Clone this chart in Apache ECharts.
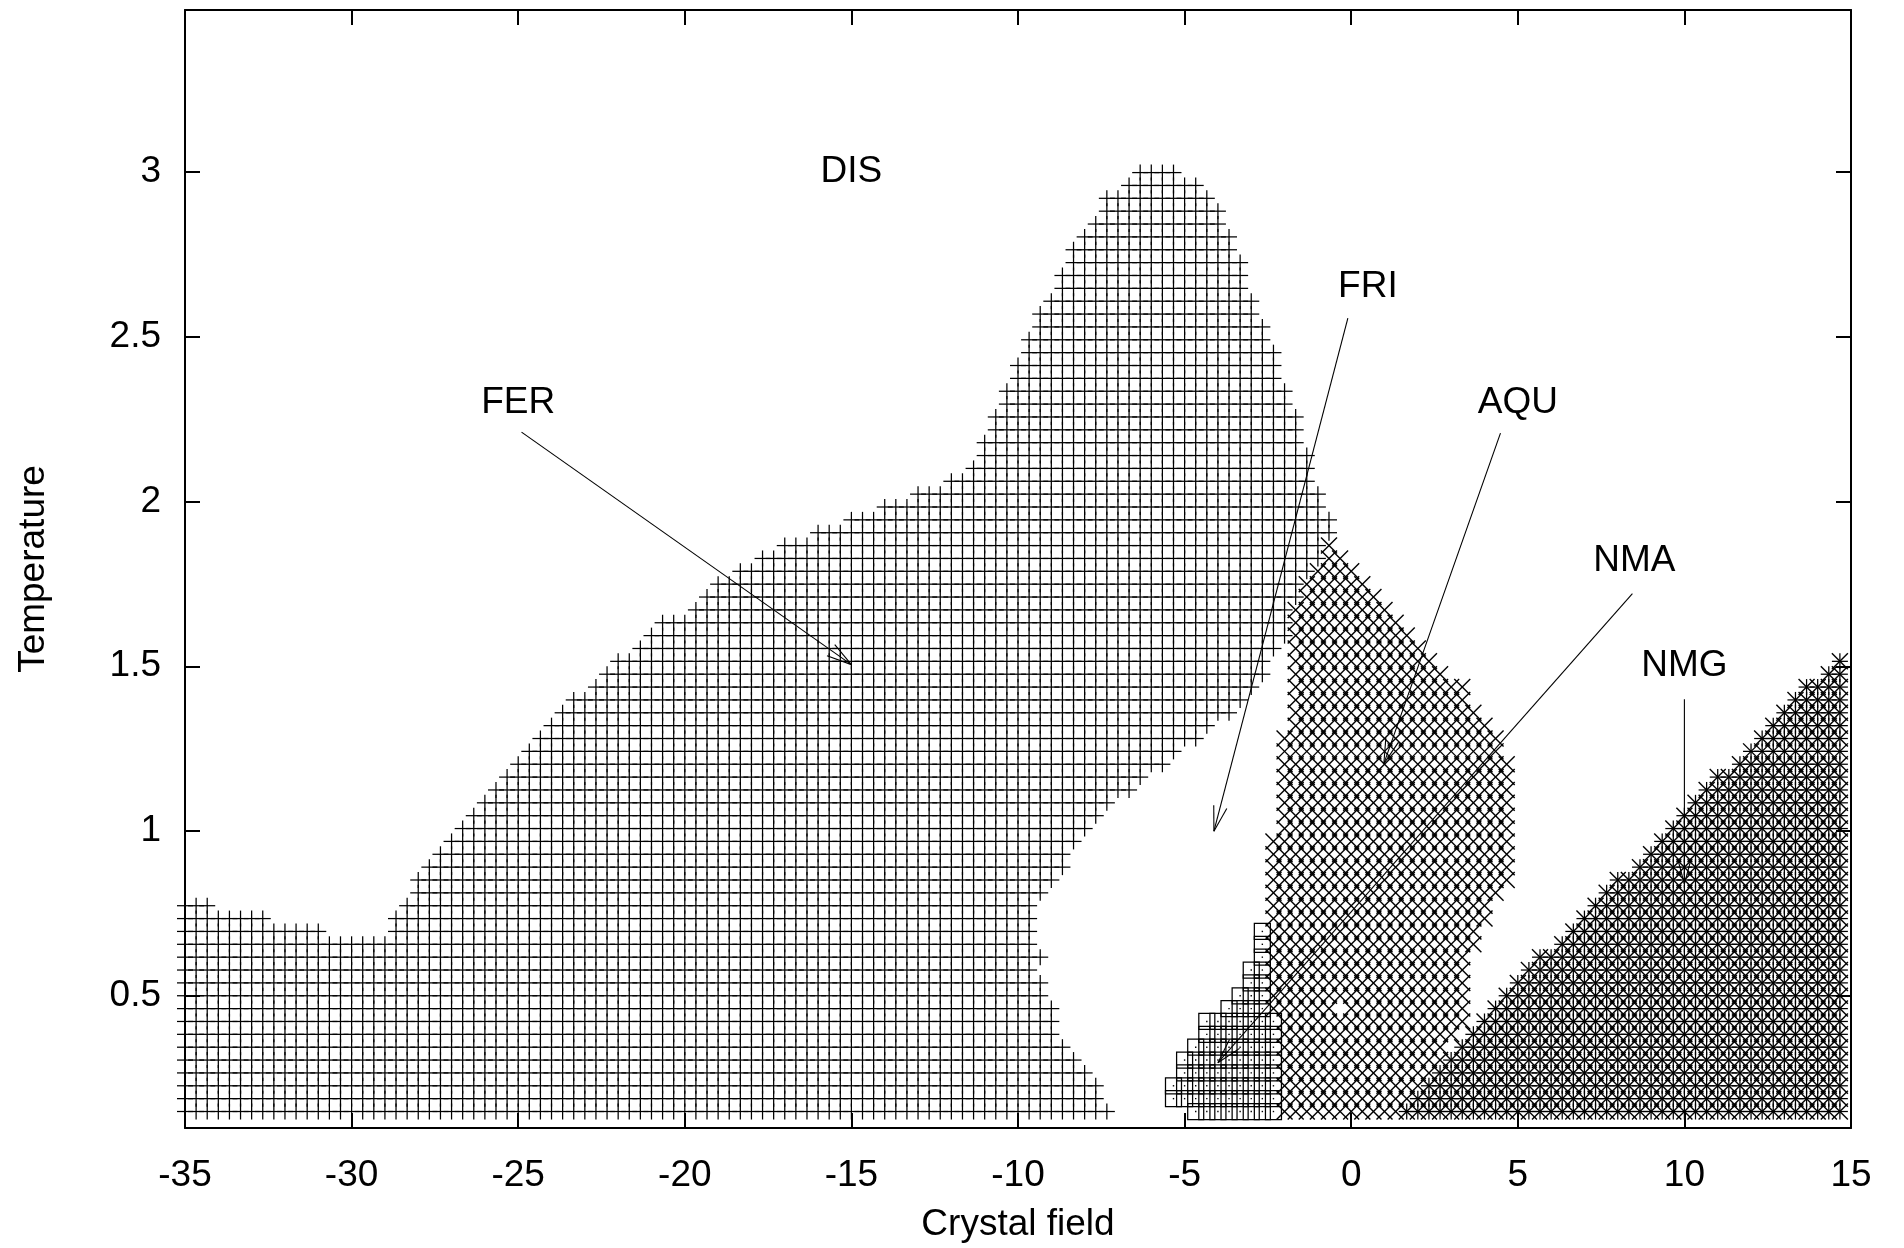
<!DOCTYPE html>
<html><head><meta charset="utf-8">
<script src="https://cdn.jsdelivr.net/npm/echarts@6/dist/echarts.min.js"></script>
<style>html,body{margin:0;padding:0;background:#fff}#c{width:1904px;height:1248px}</style>
</head><body><div id="c"></div>
<script>
// Lattice of the computed phase diagram: x = X_START + i*X_STEP, T = T_START + j*T_STEP
const X_START = -35, X_STEP = 1/3, T_START = 0.15, T_STEP = 0.039;
const xTicks = [-35,-30,-25,-20,-15,-10,-5,0,5,10,15];
const yTicks = [0.5,1,1.5,2,2.5,3];

// FER ('+') : first and last column per row j = 0..73
const ferLeft = [0,0,0,0,0,0,0,0,0,0, 0,0,0,0,0,0,0,21,21,22, 23,24,25,26,27,28,29,30,31,32,
  33,34,35,37,38,39,41,42,43,46, 47,48,50,52,54,57,60,63,66,69, 71,72,72,73,73,74,74,75,75,76,
  76,77,77,78,79,79,80,80,81,82, 83,83,85,86];
const ferRight = [83,82,82,81,80,79,78,78,78,77, 77,76,77,76,76,76,76,77,78,79, 79,80,81,82,83,85,86,88,89,91,
  92,94,95,96,97,97,98,99,99,99, 100,100,101,102,102,103,103,102,102,101, 101,101,100,100,100,99,99,98,98,98,
  97,97,96,96,95,95,95,94,94,93, 93,92,91,89];
// columns missing inside a FER row: [row, first col, last col]
const ferGaps = [[14,13,18],[15,8,18],[16,3,19]];

// NMA (squares): [row, first col, last col]
const nmaRows = [[0,91,98],[1,89,98],[2,89,98],[3,90,98],[4,90,98],[5,91,98],[6,92,98],[7,92,98],
  [8,94,97],[9,95,97],[10,96,97],[11,96,97],[12,97,97],[13,97,97],[14,97,97]];

// AQU ('x'): [row, first col, last col]
const aquRows = [[0,99,109],[1,99,110],[2,99,111],[3,99,112],[4,99,113],[5,99,113],[6,99,114],[7,99,115],
  [8,98,115],[9,98,115],[10,98,115],[11,98,115],[12,98,115],[13,98,116],[14,98,116],[15,98,117],
  [16,98,117],[17,98,118],[18,98,119],[19,98,119],[20,98,119],[21,98,119],[22,99,119],[23,99,119],
  [24,99,119],[25,99,119],[26,99,119],[27,99,119],[28,99,118],[29,99,118],[30,100,117],[31,100,116],
  [32,100,115],[33,100,115],[34,100,113],[35,100,112],[36,100,111],[37,100,110],[38,100,109],
  [39,100,108],[40,101,107],[41,101,106],[42,102,105],[43,103,104],[44,103,103]];
const aquHoles = [[104,8]];

// NMG ('*'): [row, first col]; every row ends at column 149
const nmgRows = [[0,110],[1,111],[2,112],[3,113],[4,114],[5,115],[6,116],[7,117],[8,118],[9,119],
  [10,120],[11,121],[12,122],[13,124],[14,125],[15,126],[16,127],[17,128],[18,129],[19,131],
  [20,132],[21,133],[22,134],[23,135],[24,136],[25,137],[26,138],[27,140],[28,141],[29,142],
  [30,143],[31,144],[32,145],[33,146],[34,148],[35,149]];
const NMG_LAST = 149;

// annotations
const labelTexts = ['DIS','FER','FRI','AQU','NMA','NMG'];
const labelX = [-15, -25, 0.5, 5, 8.5, 10];
const labelY = [3.0, 2.3, 2.65, 2.3, 1.82, 1.5];
const arrowFrom = [[-24.9,2.21],[-0.1,2.556],[4.48,2.207],[8.44,1.72],[10,1.4]];
const arrowTo   = [[-15,1.505],[-4.12,1.0],[0.98,1.205],[-4.0,0.298],[10,0.84]];

const pt = (i,j) => [X_START + i*X_STEP, +(T_START + j*T_STEP).toFixed(4)];

const ferData = [];
for (let j = 0; j < ferLeft.length; j++) {
  for (let i = ferLeft[j]; i <= ferRight[j]; i++) {
    if (ferGaps.some(g => g[0] === j && i >= g[1] && i <= g[2])) continue;
    ferData.push(pt(i,j));
  }
}
const nmaData = [];
nmaRows.forEach(r => { for (let i = r[1]; i <= r[2]; i++) nmaData.push(pt(i, r[0])); });
const aquData = [];
aquRows.forEach(r => { for (let i = r[1]; i <= r[2]; i++) {
  if (aquHoles.some(h => h[0] === i && h[1] === r[0])) continue;
  aquData.push(pt(i, r[0])); } });
const nmgData = [];
nmgRows.forEach(r => { for (let i = r[1]; i <= NMG_LAST; i++) nmgData.push(pt(i, r[0])); });

const LW = 1.25, H = 8, HX = 8, FONT = 'Liberation Sans, Arial, Helvetica, sans-serif', FS = 37;
const ln = (x1,y1,x2,y2,w) => ({type:'line', shape:{x1,y1,x2,y2}, style:{stroke:'#000', lineWidth:w||LW}});

function markerRenderer(kind) {
  return function(params, api) {
    const c = api.coord([api.value(0), api.value(1)]);
    const x = c[0], y = c[1], ch = [];
    if (kind === 'plus' || kind === 'star') {
      ch.push(ln(x-H,y,x+H,y), ln(x,y-H,x,y+H));
    }
    if (kind === 'cross' || kind === 'star') {
      ch.push(ln(x-HX,y-HX,x+HX,y+HX,1.4), ln(x-HX,y+HX,x+HX,y-HX,1.4));
    }
    if (kind === 'box') {
      ch.push({type:'rect', shape:{x:x-H, y:y-H, width:2*H, height:2*H}, style:{fill:null, stroke:'#000', lineWidth:LW}});
      ch.push({type:'rect', shape:{x:x-0.7, y:y-0.7, width:1.4, height:1.4}, style:{fill:'#000'}});
    }
    return {type:'group', children:ch};
  };
}

function arrowRender(params, api) {
  const a = api.coord([api.value(0), api.value(1)]);
  const b = api.coord([api.value(2), api.value(3)]);
  const ang = Math.atan2(a[1]-b[1], a[0]-b[0]);
  const L = 26, th = 15*Math.PI/180;
  return {type:'group', children:[
    ln(a[0],a[1],b[0],b[1],1.1),
    ln(b[0],b[1],b[0]+L*Math.cos(ang+th),b[1]+L*Math.sin(ang+th),1.1),
    ln(b[0],b[1],b[0]+L*Math.cos(ang-th),b[1]+L*Math.sin(ang-th),1.1)
  ]};
}

function labelRender(params, api) {
  const c = api.coord([api.value(0), api.value(1)]);
  return {type:'text', x:c[0], y:c[1], style:{text:labelTexts[params.dataIndex], fontSize:FS,
    fontFamily:FONT, fill:'#000', align:'center', verticalAlign:'middle'}};
}

const axisCommon = {
  axisLine:{onZero:false, lineStyle:{color:'#000', width:2}},
  axisTick:{inside:true, length:15, lineStyle:{color:'#000', width:2}},
  splitLine:{show:false}
};
const labelStyle = {color:'#000', fontSize:FS, fontFamily:FONT};

const option = {
  animation:false,
  backgroundColor:'#fff',
  grid:{left:185, right:53, top:10, bottom:120, containLabel:false, outerBoundsMode:'none'},
  xAxis:[
    Object.assign({type:'value', min:-35, max:15, interval:5, position:'bottom',
      axisLabel:Object.assign({margin:29}, labelStyle),
      name:'Crystal field', nameLocation:'middle', nameGap:78, nameTextStyle:labelStyle}, axisCommon),
    Object.assign({type:'value', min:-35, max:15, interval:5, position:'top',
      axisLabel:{show:false}}, axisCommon)
  ],
  yAxis:[
    Object.assign({type:'value', min:0.1, max:3.49, position:'left',
      axisLabel:Object.assign({margin:24, customValues:yTicks}, labelStyle),
      name:'Temperature', nameLocation:'middle', nameGap:133, nameRotate:90, nameTextStyle:labelStyle}, axisCommon,
      {axisTick:{inside:true, length:15, customValues:yTicks, lineStyle:{color:'#000', width:2}}}),
    Object.assign({type:'value', min:0.1, max:3.49, position:'right',
      axisLabel:{show:false}}, axisCommon,
      {axisTick:{inside:true, length:15, customValues:yTicks, lineStyle:{color:'#000', width:2}}})
  ],
  series:[
    {type:'custom', name:'FER', renderItem:markerRenderer('plus'), data:ferData, progressive:0, silent:true},
    {type:'custom', name:'NMA', renderItem:markerRenderer('box'), data:nmaData, progressive:0, silent:true},
    {type:'custom', name:'AQU', renderItem:markerRenderer('cross'), data:aquData, progressive:0, silent:true},
    {type:'custom', name:'NMG', renderItem:markerRenderer('star'), data:nmgData, progressive:0, silent:true},
    {type:'custom', name:'arrows', renderItem:arrowRender, progressive:0, silent:true,
      data:arrowFrom.map((f,k) => [f[0], f[1], arrowTo[k][0], arrowTo[k][1]])},
    {type:'custom', name:'labels', renderItem:labelRender, progressive:0, silent:true,
      data:labelX.map((x,k) => [x, labelY[k]])}
  ]
};
const chart = echarts.init(document.getElementById('c'), null, {renderer:'canvas'});
chart.setOption(option);
</script></body></html>
